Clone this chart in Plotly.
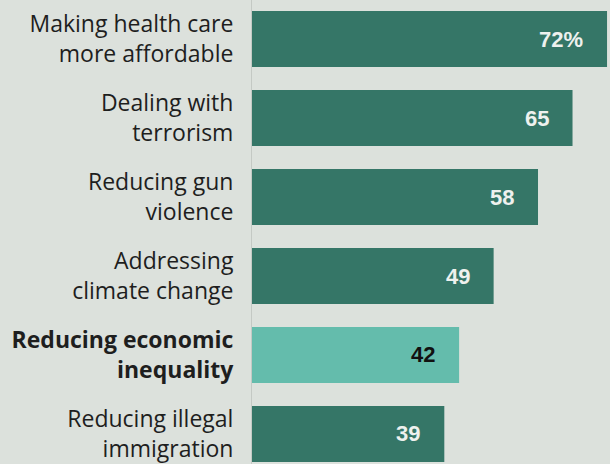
import plotly.graph_objects as go

categories = [
    "Making health care<br>more affordable",
    "Dealing with<br>terrorism",
    "Reducing gun<br>violence",
    "Addressing<br>climate change",
    "<b>Reducing economic<br>inequality</b>",
    "Reducing illegal<br>immigration",
]
values = [72, 65, 58, 49, 42, 39]
value_labels = ["72%", "65", "58", "49", "42", "39"]
highlight = [False, False, False, False, True, False]

DARK = "#357667"
LIGHT = "#64bcac"
BG = "#dce1dc"

colors = [LIGHT if h else DARK for h in highlight]

fig = go.Figure()
fig.add_trace(go.Bar(
    y=categories, x=values, orientation="h",
    marker=dict(color=colors, line=dict(width=0)),
    width=0.71, hoverinfo="skip",
))

for cat, v, lab, h in zip(categories, values, value_labels, highlight):
    fig.add_annotation(
        x=v, y=cat, text=f"<b>{lab}</b>", showarrow=False,
        xanchor="right", yanchor="middle", xshift=-22,
        font=dict(family="Liberation Sans, Arial, sans-serif", size=22,
                  color="#111111" if h else "#eef1ee"),
    )

fig.update_layout(
    width=610, height=464,
    margin=dict(l=252, r=0, t=0, b=0, autoexpand=False),
    paper_bgcolor=BG, plot_bgcolor=BG,
    showlegend=False,
    font=dict(family="Open Sans, sans-serif", size=23, color="#1e1e1e"),
    xaxis=dict(range=[0, 72.6], visible=False, fixedrange=True),
    yaxis=dict(
        range=[5.38, -0.494], type="category",
        categoryorder="array", categoryarray=categories,
        showline=True, linecolor="#c4c9c4", linewidth=1,
        showgrid=False, zeroline=False, ticks="",
        ticklabelstandoff=13, automargin=False, fixedrange=True,
        tickfont=dict(family="Open Sans, sans-serif", size=23, color="#1e1e1e"),
    ),
)

fig.write_html("out.html")
